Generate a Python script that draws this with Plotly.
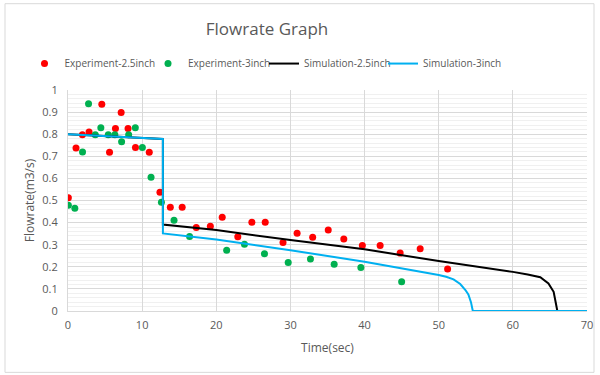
import plotly.graph_objects as go

# Experiment data
exp25_t = [0.05, 1.08, 1.94, 2.84, 4.56, 5.6, 6.4, 7.17, 8.1, 9.1, 10.96, 12.4, 13.8, 15.4,
           17.3, 19.2, 20.8, 22.9, 24.8, 26.6, 29.0, 30.9, 33.0, 35.1, 37.2, 39.7, 42.1,
           44.8, 47.5, 51.2]
exp25_q = [0.513, 0.737, 0.797, 0.81, 0.935, 0.718, 0.826, 0.898, 0.826, 0.74, 0.718, 0.537,
           0.469, 0.469, 0.378, 0.384, 0.424, 0.336, 0.402, 0.402, 0.31, 0.352, 0.334, 0.366,
           0.326, 0.296, 0.296, 0.262, 0.282, 0.19]

exp3_t = [0.05, 0.92, 1.96, 2.77, 3.68, 4.43, 5.43, 6.32, 7.23, 8.18, 9.08, 10.03, 11.2,
          12.6, 14.3, 16.4, 21.4, 23.8, 26.5, 29.7, 32.7, 35.9, 39.5, 45.0]
exp3_q = [0.479, 0.465, 0.719, 0.938, 0.798, 0.829, 0.798, 0.798, 0.766, 0.798, 0.829, 0.74,
          0.605, 0.492, 0.411, 0.337, 0.275, 0.302, 0.259, 0.22, 0.235, 0.211, 0.197, 0.132]

# Simulation curves
sim25_t = [0, 12.8, 12.8, 20, 30, 40, 50, 57, 60, 62, 63.7, 64.8, 65.5, 65.8, 66, 70]
sim25_q = [0.80, 0.778, 0.391, 0.366, 0.321, 0.279, 0.226, 0.193, 0.177, 0.165, 0.153,
           0.125, 0.087, 0.035, 0, 0]

sim3_t = [0, 12.8, 12.8, 20, 30, 40, 50, 51, 52, 52.9, 53.6, 54.0, 54.35, 54.6, 70]
sim3_q = [0.80, 0.778, 0.351, 0.324, 0.275, 0.223, 0.163, 0.155, 0.143, 0.122, 0.095,
          0.075, 0.04, 0, 0]

x_ticks = [0, 10, 20, 30, 40, 50, 60, 70]
y_ticks = [0, 0.1, 0.2, 0.3, 0.4, 0.5, 0.6, 0.7, 0.8, 0.9, 1]
y_labels = ["0", "0.1", "0.2", "0.3", "0.4", "0.5", "0.6", "0.7", "0.8", "0.9", "1"]

FONT = "Open Sans"
GRAY = "#595959"

fig = go.Figure()
fig.add_trace(go.Scatter(x=exp25_t, y=exp25_q, mode="markers", name="Experiment-2.5inch",
                         marker=dict(color="#ff0000", size=7), legend="legend"))
fig.add_trace(go.Scatter(x=exp3_t, y=exp3_q, mode="markers", name="Experiment-3inch",
                         marker=dict(color="#00b050", size=7), legend="legend2"))
fig.add_trace(go.Scatter(x=sim25_t, y=sim25_q, mode="lines", name="Simulation-2.5inch",
                         line=dict(color="#000000", width=2), legend="legend3"))
fig.add_trace(go.Scatter(x=sim3_t, y=sim3_q, mode="lines", name="Simulation-3inch",
                         line=dict(color="#00b0f0", width=2), legend="legend4"))

# plot-area pixel bounds
L, R, T, B = 68, 587, 89.5, 311
def px_x(p): return (p - L) / (R - L)
def px_y(p): return (B - p) / (B - T)

def leg(left_px):
    return dict(orientation="h", x=px_x(left_px), xanchor="left", y=px_y(63), yanchor="middle",
                font=dict(size=10, color=GRAY, family=FONT), itemwidth=30,
                bgcolor="rgba(0,0,0,0)", borderwidth=0)

fig.update_layout(
    width=600, height=375,
    margin=dict(l=L, r=600 - R, t=T, b=375 - B, autoexpand=False),
    paper_bgcolor="white", plot_bgcolor="white",
    font=dict(family=FONT, color=GRAY, size=11),
    title=dict(text="Flowrate Graph", x=267 / 600, xanchor="center", y=1 - 29 / 375,
               yanchor="middle", font=dict(size=17, color=GRAY, family=FONT)),
    showlegend=True,
    legend=leg(24.5), legend2=leg(148), legend3=leg(264), legend4=leg(383),
    xaxis=dict(range=[0, 70], tickvals=x_ticks, showgrid=True, gridcolor="#d9d9d9",
               showline=True, linecolor="#d9d9d9", zeroline=False, ticks="",
               ticklabelstandoff=4,
               tickfont=dict(size=11, color=GRAY),
               title=dict(text="Time(sec)", font=dict(size=12, color=GRAY), standoff=12)),
    yaxis=dict(range=[0, 1], tickvals=y_ticks, ticktext=y_labels, showgrid=True,
               gridcolor="#d9d9d9", showline=True, linecolor="#d9d9d9", zeroline=False,
               ticks="", ticklabelstandoff=7, tickfont=dict(size=11, color=GRAY),
               minor=dict(dtick=0.02, showgrid=True, gridcolor="#f0f0f0", ticks=""),
               title=dict(text="Flowrate(m3/s)", font=dict(size=12, color=GRAY), standoff=5)),
    shapes=[dict(type="rect", xref="paper", yref="paper",
                 x0=px_x(5), x1=px_x(594), y0=px_y(372.5), y1=px_y(3),
                 line=dict(color="#d9d9d9", width=1), fillcolor="rgba(0,0,0,0)", layer="below")],
)

fig.write_html("out.html", config={"displayModeBar": False},
               post_script="document.body.style.margin='0';")
